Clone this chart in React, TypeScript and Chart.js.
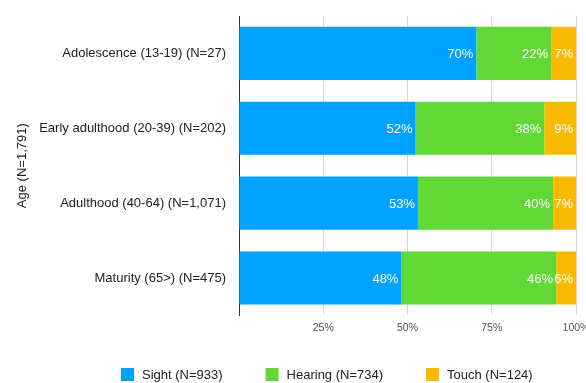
import React, { useEffect, useRef } from "react";
import { Chart, registerables } from "chart.js";

Chart.register(...registerables);

const categories = [
  "Adolescence (13-19) (N=27)",
  "Early adulthood (20-39) (N=202)",
  "Adulthood (40-64) (N=1,071)",
  "Maturity (65>) (N=475)",
];
const seriesNames = ["Sight (N=933)", "Hearing (N=734)", "Touch (N=124)"];
const sight = [70.4, 52.4, 53.1, 48.2];
const hearing = [22.2, 38.2, 40.1, 45.9];
const touch = [7.4, 9.4, 6.8, 5.9];
const xTicks = [0, 25, 50, 75, 100];
const colors = ["#00A2FF", "#61D836", "#F8BA00"];
const FONT = "'Liberation Sans', Arial, Helvetica, sans-serif";

const barLabels = {
  id: "barLabels",
  afterDatasetsDraw(chart: any) {
    const ctx = chart.ctx;
    ctx.save();
    ctx.font = `13px ${FONT}`;
    ctx.fillStyle = "#ffffff";
    ctx.textAlign = "right";
    ctx.textBaseline = "middle";
    chart.data.datasets.forEach((ds: any, di: number) => {
      const meta = chart.getDatasetMeta(di);
      meta.data.forEach((el: any, i: number) => {
        const v = ds.data[i];
        ctx.fillText(Math.round(v) + "%", el.x - 3, el.y + 1);
      });
    });
    ctx.restore();
  },
};

const bottomLegend = {
  id: "bottomLegend",
  afterDraw(chart: any) {
    const ctx = chart.ctx;
    ctx.save();
    ctx.font = `13px ${FONT}`;
    ctx.textBaseline = "middle";
    ctx.textAlign = "left";
    const y = 375;
    let x = 121;
    chart.data.datasets.forEach((ds: any) => {
      ctx.fillStyle = ds.backgroundColor;
      ctx.fillRect(x, y - 7, 13, 13);
      ctx.fillStyle = "#222222";
      ctx.fillText(ds.label, x + 21, y);
      x += 21 + ctx.measureText(ds.label).width + 43;
    });
    ctx.restore();
  },
};

export default function App() {
  const ref = useRef<HTMLCanvasElement>(null);
  useEffect(() => {
    if (!ref.current) return;
    const values = [sight, hearing, touch];
    const chart = new Chart(ref.current, {
      type: "bar",
      data: {
        labels: categories,
        datasets: seriesNames.map((name, i) => ({
          label: name,
          data: values[i],
          backgroundColor: colors[i],
          borderWidth: 0,
          barPercentage: 0.71,
          categoryPercentage: 1,
        })),
      },
      options: {
        indexAxis: "y",
        animation: false,
        responsive: false,
        layout: { padding: { top: 16, right: 0, bottom: 43, left: 0 } },
        plugins: {
          legend: { display: false },
          tooltip: { enabled: false },
        },
        scales: {
          x: {
            stacked: true,
            min: 0,
            max: 100,
            afterBuildTicks: (scale: any) => {
              scale.ticks = xTicks.map((v) => ({ value: v }));
            },
            afterFit: (scale: any) => {
              scale.paddingRight = 10;
              scale.paddingLeft = 0;
            },
            ticks: {
              padding: 6,
              color: "#555555",
              font: { size: 10.5, family: FONT },
              callback: (v: any) => (Number(v) === 0 ? "" : v + "%"),
            },
            grid: {
              drawTicks: false,
              color: (c: any) =>
                c.tick && c.tick.value === 0 ? "rgba(0,0,0,0)" : "#d9d9d9",
            },
            border: { display: false },
          },
          y: {
            stacked: true,
            afterFit: (scale: any) => {
              scale.width = 239;
            },
            ticks: {
              padding: 5,
              color: "#222222",
              font: { size: 13, family: FONT },
            },
            grid: { display: false },
            border: { display: true, color: "#333333", width: 1 },
            title: {
              display: true,
              text: "Age (N=1,791)",
              color: "#222222",
              font: { size: 13, family: FONT },
              padding: { top: 15, bottom: 0 },
            },
          },
        },
      },
      plugins: [barLabels, bottomLegend],
    });
    return () => chart.destroy();
  }, []);
  return (
    <div style={{ position: "absolute", left: 0, top: 0, width: 586, height: 383, background: "#fff" }}>
      <canvas ref={ref} width={586} height={383} />
    </div>
  );
}
